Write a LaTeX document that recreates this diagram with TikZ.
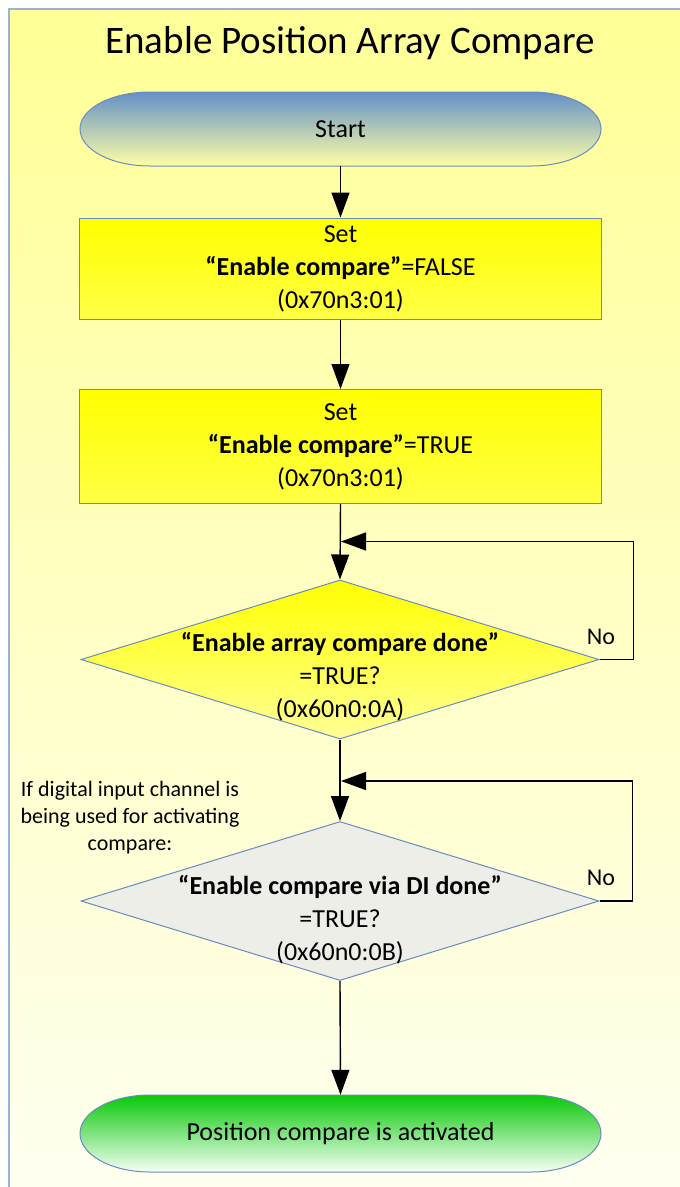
\documentclass[tikz,border=0pt]{standalone}
\usepackage{fontspec}
\setmainfont{Carlito}
\usetikzlibrary{arrows.meta,shapes.geometric}
\definecolor{bgtop}{RGB}{255,255,150}
\definecolor{bgbot}{RGB}{255,255,242}
\definecolor{framec}{RGB}{150,180,215}
\definecolor{shapeborder}{RGB}{105,140,190}
\definecolor{starttop}{RGB}{100,145,200}
\definecolor{startbot}{RGB}{255,255,165}
\definecolor{boxtop}{RGB}{255,255,0}
\definecolor{boxbot}{RGB}{255,255,70}
\definecolor{dtop}{RGB}{255,255,0}
\definecolor{dbot}{RGB}{255,255,150}
\definecolor{dgray}{RGB}{238,238,232}
\definecolor{endtop}{RGB}{10,200,10}
\definecolor{endbot}{RGB}{245,255,245}
\begin{document}
\begin{tikzpicture}[x=1pt,y=-1pt,
  txt/.style={font=\fontsize{26}{33}\selectfont, align=center, inner sep=0pt},
  box/.style={draw=shapeborder, line width=1pt, top color=boxtop, bottom color=boxbot,
    minimum width=522pt, txt},
  dia/.style={diamond, draw=shapeborder, line width=1pt, inner sep=0pt,
    minimum width=518pt, minimum height=159pt},
  termtxt/.style={txt, minimum width=522pt, minimum height=76pt},
  arr/.style={line width=1.4pt, -{Triangle[length=25pt,width=18pt]}},
  lbl/.style={font=\fontsize{24}{28}\selectfont, inner sep=0pt}
]
\useasboundingbox (0,0) rectangle (680,1187);
\clip (0,0) rectangle (680,1187);
\fill[white] (0,0) rectangle (680,1187);
\shade[top color=bgtop, bottom color=bgbot, draw=framec, line width=1.5pt] (9,9) rectangle (700,1210);

\node[anchor=base, inner sep=0pt, font=\fontsize{39}{45}\selectfont] (title) at (350,53) {Enable Position Array Compare};

% Start terminal
\shade[top color=starttop, bottom color=startbot, draw=shapeborder, line width=1pt]
  (150,92) -- (531,92) arc[start angle=-90, end angle=90, x radius=70, y radius=37]
  -- (150,166) arc[start angle=90, end angle=270, x radius=70, y radius=37] -- cycle;
\node[termtxt, minimum height=74pt] (start) at (340.5,129) {Start};

% boxes
\node[box, minimum height=101pt] (set1) at (340.5,268.5) {Set\\\textbf{“Enable compare”}=FALSE\\(0x70n3:01)};
\node[box, minimum height=114pt] (set2) at (340.5,446.5) {Set\\\textbf{“Enable compare”}=TRUE\\(0x70n3:01)};

% decision 1
\node[dia, top color=dtop, bottom color=dbot] (d1) at (340,659.5) {};
\node[txt] (d1t) at (340,677) {\textbf{“Enable array compare done”}\\=TRUE?\\(0x60n0:0A)};

% decision 2
\node[dia, fill=dgray] (d2) at (340,901) {};
\node[txt] (d2t) at (340,920) {\textbf{“Enable compare via DI done”}\\=TRUE?\\(0x60n0:0B)};

\node[font=\fontsize{22}{27}\selectfont, align=center, inner sep=0pt] (note) at (130,818) {If digital input channel is\\being used for activating\\compare:};

% end terminal
\shade[top color=endtop, bottom color=endbot, draw=shapeborder, line width=1pt]
  (150,1095) -- (531,1095) arc[start angle=-90, end angle=90, x radius=70, y radius=38.5]
  -- (150,1172) arc[start angle=90, end angle=270, x radius=70, y radius=38.5] -- cycle;
\node[termtxt, minimum height=77pt] (end) at (340.5,1133.5) {Position compare is activated};

% connectors
\coordinate (j1) at (341,541.5);
\coordinate (j2) at (341,781);
\draw[arr] (start.south) -- (set1.north);
\draw[arr] (set1.south) -- (set2.north);
\draw[arr] (set2.south) -- (d1.north);
\draw[arr] (d1.east) -- ++(34,0) |- (j1);
\draw[arr] (d1.south) -- (d2.north);
\draw[arr] (d2.east) -- ++(33,0) |- (j2);
\draw[arr] (d2.south) -- (end.north);

\node[lbl] (no1) at (601,637) {No};
\node[lbl] (no2) at (601,878) {No};
\end{tikzpicture}
\end{document}
